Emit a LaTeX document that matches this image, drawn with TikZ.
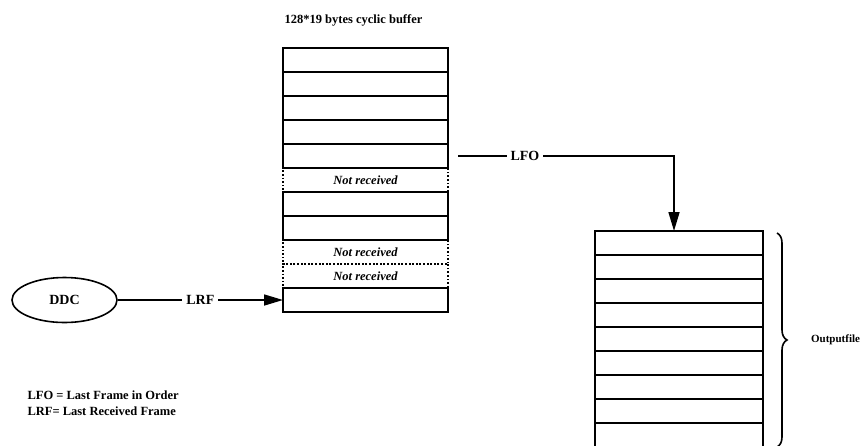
\documentclass[tikz,border=0pt]{standalone}
\usepackage{fontspec}
\setmainfont{Liberation Serif}
\usetikzlibrary{positioning,arrows.meta,calc,shapes.geometric,decorations.pathreplacing}
\begin{document}
\begin{tikzpicture}[
  x=1pt, y=-1pt,
  font=\bfseries\fontsize{12.5}{16}\selectfont,
  slot/.style={draw=black, line width=1.6pt, minimum width=165pt,
    minimum height=24pt, inner sep=0pt, outer sep=0pt},
  lost/.style={slot, dotted, line width=1.3pt,
    font=\bfseries\itshape\fontsize{12.5}{14}\selectfont},
  oslot/.style={slot, minimum width=168pt},
  src/.style={draw=black, ellipse, line width=1.6pt, minimum width=105pt,
    minimum height=45pt, font=\bfseries\fontsize{14}{16}\selectfont},
  arr/.style={-{Triangle[length=19pt,width=11pt]}, line width=1.6pt},
  lbl/.style={fill=white, inner sep=4pt, font=\bfseries\fontsize{14}{16}\selectfont},
  brc/.style={decorate, decoration={brace, amplitude=10pt}, line width=1.6pt}
]
\useasboundingbox (0,0) rectangle (866,445);
\node[slot] (b1) at (365.5,60) {};
\node[slot, below=0pt of b1] (b2) {};
\node[slot, below=0pt of b2] (b3) {};
\node[slot, below=0pt of b3] (b4) {};
\node[slot, below=0pt of b4] (b5) {};
\node[lost, below=0pt of b5] (b6) {Not received};
\node[slot, below=0pt of b6] (b7) {};
\node[slot, below=0pt of b7] (b8) {};
\node[lost, below=0pt of b8] (b9) {Not received};
\node[lost, below=0pt of b9] (b10) {Not received};
\node[slot, below=0pt of b10] (b11) {};
\node[above=18pt of b1, xshift=-12pt] (title) {128*19 bytes cyclic buffer};
\node[oslot] (o1) at (679,243) {};
\node[oslot, below=0pt of o1] (o2) {};
\node[oslot, below=0pt of o2] (o3) {};
\node[oslot, below=0pt of o3] (o4) {};
\node[oslot, below=0pt of o4] (o5) {};
\node[oslot, below=0pt of o5] (o6) {};
\node[oslot, below=0pt of o6] (o7) {};
\node[oslot, below=0pt of o7] (o8) {};
\node[oslot, below=0pt of o8] (o9) {};
\node[src] (ddc) at (64.5,300) {DDC};
\coordinate[right=10pt of b5] (lfo);
\draw[arr] (ddc.east) -- node[lbl] {LRF} (b11.west);
\draw[arr] (lfo) -| node[lbl, pos=0.155] {LFO} ($(o1.north)+(-5,0)$);
\draw[brc] ($(o1.north east)+(14,2)$) -- ($(o9.south east)+(14,0)$)
  node[midway, right=30pt, font=\bfseries\fontsize{11}{13}\selectfont] (outf) {Outputfile};
\node[align=left, anchor=west] (legend) at (24,403)
  {LFO = Last Frame in Order\\LRF= Last Received Frame};
\end{tikzpicture}
\end{document}
